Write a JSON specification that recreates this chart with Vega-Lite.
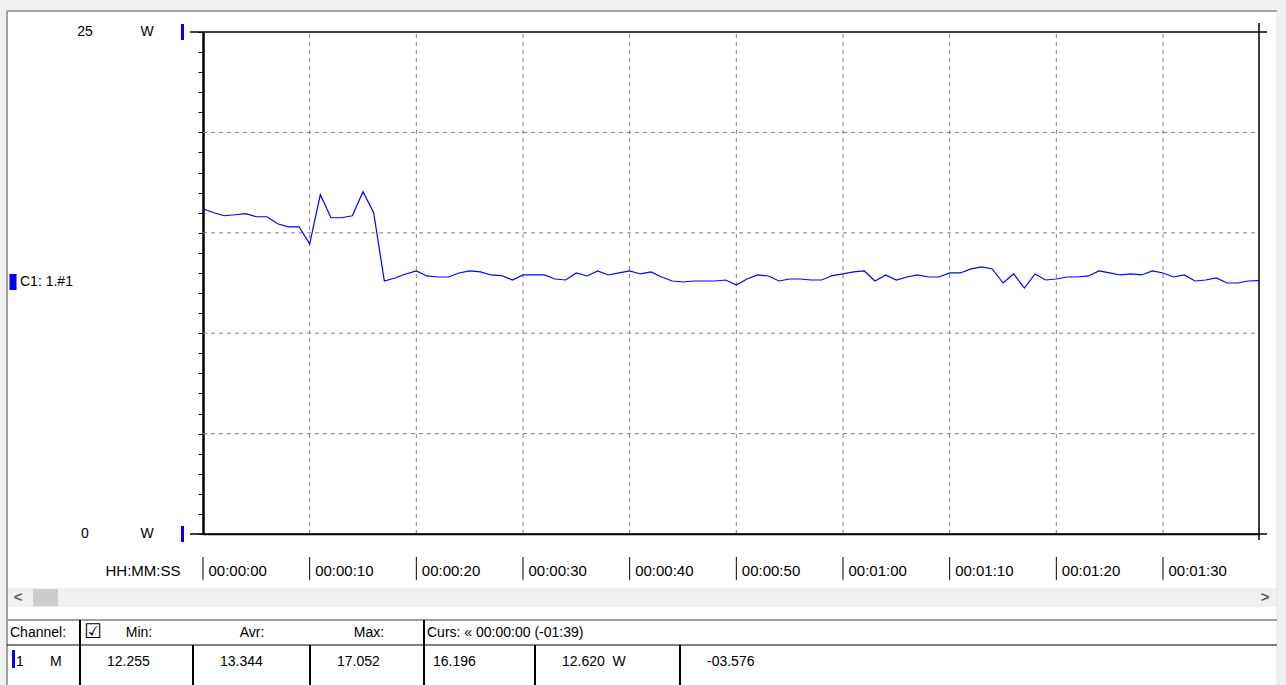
{
  "$schema": "https://vega.github.io/schema/vega-lite/v6.json",
  "width": 1286,
  "height": 685,
  "autosize": {"type": "none"},
  "padding": 0,
  "background": "#ffffff",
  "config": {
    "view": {"stroke": null, "fill": "#ffffff"},
    "font": "Liberation Sans",
    "text": {"font": "Liberation Sans", "fontSize": 14, "color": "#000000"}
  },
  "datasets": {
    "series": [
      {"t":0,"w":16.2},{"t":1,"w":16.0},{"t":2,"w":15.85},{"t":3,"w":15.9},{"t":4,"w":15.95},
      {"t":5,"w":15.8},{"t":6,"w":15.8},{"t":7,"w":15.45},{"t":8,"w":15.3},{"t":9,"w":15.3},
      {"t":10,"w":14.45},{"t":11,"w":16.9},{"t":12,"w":15.75},{"t":13,"w":15.75},{"t":14,"w":15.85},
      {"t":15,"w":17.05},{"t":16,"w":16.0},{"t":17,"w":12.6},{"t":18,"w":12.75},{"t":19,"w":12.95},
      {"t":20,"w":13.1},{"t":21,"w":12.85},{"t":22,"w":12.8},{"t":23,"w":12.8},{"t":24,"w":13.0},
      {"t":25,"w":13.1},{"t":26,"w":13.05},{"t":27,"w":12.9},{"t":28,"w":12.87},{"t":29,"w":12.65},
      {"t":30,"w":12.9},{"t":31,"w":12.9},{"t":32,"w":12.9},{"t":33,"w":12.7},{"t":34,"w":12.65},
      {"t":35,"w":13.0},{"t":36,"w":12.85},{"t":37,"w":13.1},{"t":38,"w":12.9},{"t":39,"w":13.0},
      {"t":40,"w":13.1},{"t":41,"w":12.95},{"t":42,"w":13.05},{"t":43,"w":12.8},{"t":44,"w":12.6},
      {"t":45,"w":12.55},{"t":46,"w":12.6},{"t":47,"w":12.6},{"t":48,"w":12.6},{"t":49,"w":12.65},
      {"t":50,"w":12.4},{"t":51,"w":12.7},{"t":52,"w":12.9},{"t":53,"w":12.85},{"t":54,"w":12.6},
      {"t":55,"w":12.7},{"t":56,"w":12.7},{"t":57,"w":12.65},{"t":58,"w":12.65},{"t":59,"w":12.87},
      {"t":60,"w":12.95},{"t":61,"w":13.05},{"t":62,"w":13.1},{"t":63,"w":12.6},{"t":64,"w":12.9},
      {"t":65,"w":12.65},{"t":66,"w":12.8},{"t":67,"w":12.9},{"t":68,"w":12.8},{"t":69,"w":12.8},
      {"t":70,"w":13.0},{"t":71,"w":13.0},{"t":72,"w":13.2},{"t":73,"w":13.3},{"t":74,"w":13.2},
      {"t":75,"w":12.5},{"t":76,"w":12.95},{"t":77,"w":12.25},{"t":78,"w":12.95},{"t":79,"w":12.65},
      {"t":80,"w":12.7},{"t":81,"w":12.8},{"t":82,"w":12.8},{"t":83,"w":12.85},{"t":84,"w":13.1},
      {"t":85,"w":13.0},{"t":86,"w":12.9},{"t":87,"w":12.95},{"t":88,"w":12.9},{"t":89,"w":13.1},
      {"t":90,"w":13.0},{"t":91,"w":12.8},{"t":92,"w":12.9},{"t":93,"w":12.6},{"t":94,"w":12.65},
      {"t":95,"w":12.75},{"t":96,"w":12.5},{"t":97,"w":12.5},{"t":98,"w":12.6},{"t":99,"w":12.62}
    ],
    "table": [
      {"col":0,"header":"Channel:","value":"1"},
      {"col":1,"header":"Min:","value":"12.255"},
      {"col":2,"header":"Avr:","value":"13.344"},
      {"col":3,"header":"Max:","value":"17.052"},
      {"col":4,"header":"Curs: « 00:00:00 (-01:39)","value":"16.196"},
      {"col":5,"header":"","value":"12.620\u00a0\u00a0W"},
      {"col":6,"header":"","value":"-03.576"}
    ],
    "yends": [{"w":0,"lab":"0","ch":"C1: 1.#1"},{"w":25,"lab":"25","ch":"C1: 1.#1"}],
    "ygrid": [{"w":5},{"w":10},{"w":15},{"w":20}],
    "one": [{}]
  },
  "layer": [
    {
      "layer": [
        {
          "data": {"name": "one"},
          "mark": {"type": "rect", "fill": "#f0f0f0"},
          "encoding": {
            "x": {"datum": -1, "type": "quantitative", "scale": {"domain": [-1,0,1,2,3,4,5,6,7,8], "range": [0,7,80,193,310,424,535,680,1277,1286], "zero": false, "nice": false}, "axis": null},
            "x2": {"datum": 8},
            "y": {"datum": 0, "type": "quantitative", "scale": {"domain": [0,1,2,3,4,5,6], "range": [0,11,588,607,620,645,685], "zero": false, "nice": false}, "axis": null},
            "y2": {"datum": 1}
          }
        },
        {
          "data": {"name": "one"},
          "mark": {"type": "rect", "fill": "#f0f0f0"},
          "encoding": {
            "x": {"datum": -1, "type": "quantitative", "axis": null},
            "x2": {"datum": 0},
            "y": {"datum": 0, "type": "quantitative", "axis": null},
            "y2": {"datum": 6}
          }
        },
        {
          "data": {"name": "one"},
          "mark": {"type": "rect", "fill": "#f0f0f0"},
          "encoding": {
            "x": {"datum": 7, "type": "quantitative", "axis": null},
            "x2": {"datum": 8},
            "y": {"datum": 0, "type": "quantitative", "axis": null},
            "y2": {"datum": 6}
          }
        },
        {
          "data": {"name": "one"},
          "mark": {"type": "rect", "fill": "#f0f0f0"},
          "encoding": {
            "x": {"datum": 0, "type": "quantitative", "axis": null},
            "x2": {"datum": 7},
            "y": {"datum": 2, "type": "quantitative", "axis": null},
            "y2": {"datum": 3}
          }
        },
        {
          "data": {"name": "one"},
          "mark": {"type": "rule", "color": "#a0a0a0", "strokeWidth": 2},
          "encoding": {
            "x": {"datum": 0, "type": "quantitative", "axis": null},
            "x2": {"datum": 7},
            "y": {"datum": 1, "type": "quantitative", "axis": null}
          }
        },
        {
          "data": {"name": "one"},
          "mark": {"type": "rule", "color": "#a0a0a0", "strokeWidth": 2},
          "encoding": {
            "x": {"datum": 0, "type": "quantitative", "axis": null},
            "y": {"datum": 1, "type": "quantitative", "axis": null},
            "y2": {"datum": 6}
          }
        },
        {
          "data": {"name": "one"},
          "mark": {"type": "rule", "color": "#e3e3e3", "strokeWidth": 1},
          "encoding": {
            "x": {"datum": 7, "type": "quantitative", "axis": null},
            "y": {"datum": 1, "type": "quantitative", "axis": null},
            "y2": {"datum": 6}
          }
        },
        {
          "data": {"name": "one"},
          "mark": {"type": "rect", "fill": "#cdcdcd", "xOffset": 26, "x2Offset": 51, "yOffset": 1, "y2Offset": -1},
          "encoding": {
            "x": {"datum": 0, "type": "quantitative", "axis": null},
            "x2": {"datum": 0},
            "y": {"datum": 2, "type": "quantitative", "axis": null},
            "y2": {"datum": 3}
          }
        },
        {
          "data": {"name": "one"},
          "mark": {"type": "text", "text": "<", "dx": 11, "dy": 9, "fontSize": 15, "fontWeight": "bold", "color": "#606060", "baseline": "middle"},
          "encoding": {
            "x": {"datum": 0, "type": "quantitative", "axis": null},
            "y": {"datum": 2, "type": "quantitative", "axis": null}
          }
        },
        {
          "data": {"name": "one"},
          "mark": {"type": "text", "text": ">", "dx": -12, "dy": 9, "fontSize": 15, "fontWeight": "bold", "color": "#606060", "baseline": "middle"},
          "encoding": {
            "x": {"datum": 7, "type": "quantitative", "axis": null},
            "y": {"datum": 2, "type": "quantitative", "axis": null}
          }
        },
        {
          "data": {"name": "one"},
          "mark": {"type": "rule", "color": "#a0a0a0", "strokeWidth": 2},
          "encoding": {
            "x": {"datum": 0, "type": "quantitative", "axis": null},
            "x2": {"datum": 7},
            "y": {"datum": 4, "type": "quantitative", "axis": null}
          }
        },
        {
          "data": {"name": "one"},
          "mark": {"type": "rule", "color": "#000000", "strokeWidth": 1},
          "encoding": {
            "x": {"datum": 0, "type": "quantitative", "axis": null},
            "x2": {"datum": 7},
            "y": {"datum": 5, "type": "quantitative", "axis": null}
          }
        },
        {
          "data": {"name": "table"},
          "transform": [{"filter": "datum.col >= 1"}],
          "mark": {"type": "rule", "color": "#000000", "strokeWidth": 2},
          "encoding": {
            "x": {"field": "col", "type": "quantitative", "axis": null},
            "y": {"datum": 5, "type": "quantitative", "axis": null},
            "y2": {"datum": 6}
          }
        },
        {
          "data": {"name": "table"},
          "transform": [{"filter": "datum.col == 1 || datum.col == 4"}],
          "mark": {"type": "rule", "color": "#000000", "strokeWidth": 2},
          "encoding": {
            "x": {"field": "col", "type": "quantitative", "axis": null},
            "y": {"datum": 4, "type": "quantitative", "axis": null},
            "y2": {"datum": 5}
          }
        },
        {
          "data": {"name": "table"},
          "transform": [{"filter": "datum.col == 0 || datum.col == 4"}],
          "mark": {"type": "text", "align": "left", "baseline": "middle", "dx": 3, "dy": 13},
          "encoding": {
            "x": {"field": "col", "type": "quantitative", "axis": null},
            "y": {"datum": 4, "type": "quantitative", "axis": null},
            "text": {"field": "header"}
          }
        },
        {
          "data": {"name": "table"},
          "transform": [{"filter": "datum.col >= 1 && datum.col <= 3"}],
          "mark": {"type": "text", "align": "center", "baseline": "middle", "dx": 59, "dy": 13},
          "encoding": {
            "x": {"field": "col", "type": "quantitative", "axis": null},
            "y": {"datum": 4, "type": "quantitative", "axis": null},
            "text": {"field": "header"}
          }
        },
        {
          "data": {"name": "one"},
          "mark": {"type": "text", "text": "☑", "font": "DejaVu Sans", "fontSize": 20, "align": "left", "baseline": "middle", "dx": 4, "dy": 12},
          "encoding": {
            "x": {"datum": 1, "type": "quantitative", "axis": null},
            "y": {"datum": 4, "type": "quantitative", "axis": null}
          }
        },
        {
          "data": {"name": "table"},
          "transform": [{"filter": "datum.col == 0 || datum.col == 4"}],
          "mark": {"type": "text", "align": "left", "baseline": "middle", "dx": 9, "dy": 17},
          "encoding": {
            "x": {"field": "col", "type": "quantitative", "axis": null},
            "y": {"datum": 5, "type": "quantitative", "axis": null},
            "text": {"field": "value"}
          }
        },
        {
          "data": {"name": "table"},
          "transform": [{"filter": "datum.col != 0 && datum.col != 4"}],
          "mark": {"type": "text", "align": "left", "baseline": "middle", "dx": 27, "dy": 17},
          "encoding": {
            "x": {"field": "col", "type": "quantitative", "axis": null},
            "y": {"datum": 5, "type": "quantitative", "axis": null},
            "text": {"field": "value"}
          }
        },
        {
          "data": {"name": "one"},
          "mark": {"type": "text", "text": "M", "align": "left", "baseline": "middle", "dx": 43, "dy": 17},
          "encoding": {
            "x": {"datum": 0, "type": "quantitative", "axis": null},
            "y": {"datum": 5, "type": "quantitative", "axis": null}
          }
        },
        {
          "data": {"name": "one"},
          "mark": {"type": "rect", "fill": "#0000ff", "xOffset": 5, "x2Offset": 8, "yOffset": 5, "y2Offset": 23},
          "encoding": {
            "x": {"datum": 0, "type": "quantitative", "axis": null},
            "x2": {"datum": 0},
            "y": {"datum": 5, "type": "quantitative", "axis": null},
            "y2": {"datum": 5}
          }
        }
      ]
    },
    {
      "layer": [
        {
          "data": {"name": "series"},
          "transform": [{"filter": "datum.t % 10 == 0 && datum.t > 0"}],
          "mark": {"type": "rule", "color": "#808080", "strokeWidth": 1, "strokeDash": [4, 4]},
          "encoding": {
            "x": {"field": "t", "type": "quantitative", "scale": {"domain": [0, 99], "range": [203, 1259], "zero": false, "nice": false}},
            "y": {"datum": 0, "type": "quantitative", "scale": {"domain": [0, 25], "range": [534, 32], "zero": false, "nice": false}},
            "y2": {"datum": 25}
          }
        },
        {
          "data": {"name": "ygrid"},
          "mark": {"type": "rule", "color": "#808080", "strokeWidth": 1, "strokeDash": [4, 4]},
          "encoding": {
            "x": {"datum": 0, "type": "quantitative"},
            "x2": {"datum": 99},
            "y": {"field": "w", "type": "quantitative"}
          }
        },
        {
          "data": {"name": "series"},
          "mark": {"type": "line", "strokeWidth": 1.2, "color": "#0000ff"},
          "encoding": {
            "x": {
              "field": "t", "type": "quantitative",
              "scale": {"domain": [0, 99], "range": [203, 1259], "zero": false, "nice": false},
              "axis": {
                "orient": "bottom", "offset": -151,
                "values": [0,10,20,30,40,50,60,70,80,90], "tickCount": 20,
                "domain": true, "domainColor": "#000000", "domainWidth": 1.5,
                "ticks": false, "grid": false,
                "labelExpr": "'00:' + (datum.value < 60 ? '00:' + (datum.value < 10 ? '0' : '') + datum.value : '01:' + (datum.value - 60 < 10 ? '0' : '') + (datum.value - 60))",
                "labelAlign": "left", "labelBaseline": "alphabetic", "labelPadding": 41, "labelOffset": 5,
                "labelFlush": false, "labelOverlap": false,
                "labelFont": "Liberation Sans", "labelFontSize": 15, "labelColor": "#000000",
                "title": "HH:MM:SS", "titleFont": "Liberation Sans", "titleFontSize": 15, "titleFontWeight": "normal",
                "titleColor": "#000000", "titleAlign": "left", "titleAnchor": "start", "titleBaseline": "alphabetic",
                "titleX": 105, "titleY": 41
              }
            },
            "y": {
              "field": "w", "type": "quantitative",
              "scale": {"domain": [0, 25], "range": [534, 32], "zero": false, "nice": false},
              "axis": {
                "orient": "left", "offset": -203,
                "values": [0,1,2,3,4,5,6,7,8,9,10,11,12,13,14,15,16,17,18,19,20,21,22,23,24,25], "tickCount": 40,
                "domain": true, "domainColor": "#000000", "domainWidth": 2.5,
                "ticks": true, "tickColor": "#000000", "tickSize": 5, "tickWidth": 1,
                "grid": false, "labels": false,
                "title": null
              }
            }
          }
        },
        {
          "data": {"name": "series"},
          "transform": [{"filter": "datum.t % 10 == 0"}],
          "mark": {"type": "rule", "color": "#000000", "strokeWidth": 1, "yOffset": 23, "y2Offset": 46},
          "encoding": {
            "x": {"field": "t", "type": "quantitative"},
            "y": {"datum": 0, "type": "quantitative"},
            "y2": {"datum": 0}
          }
        },
        {
          "data": {"name": "one"},
          "mark": {"type": "rule", "color": "#000000", "strokeWidth": 1.5, "xOffset": -13, "x2Offset": 8},
          "encoding": {
            "x": {"datum": 0, "type": "quantitative"},
            "x2": {"datum": 99},
            "y": {"datum": 25, "type": "quantitative"}
          }
        },
        {
          "data": {"name": "one"},
          "mark": {"type": "rule", "color": "#000000", "strokeWidth": 1.5, "xOffset": -13, "x2Offset": 8},
          "encoding": {
            "x": {"datum": 0, "type": "quantitative"},
            "x2": {"datum": 99},
            "y": {"datum": 0, "type": "quantitative"}
          }
        },
        {
          "data": {"name": "one"},
          "mark": {"type": "rule", "color": "#000000", "strokeWidth": 1.5, "yOffset": 6, "y2Offset": -9},
          "encoding": {
            "x": {"datum": 99, "type": "quantitative"},
            "y": {"datum": 0, "type": "quantitative"},
            "y2": {"datum": 25}
          }
        },
        {
          "data": {"name": "yends"},
          "mark": {"type": "text", "text": "W", "align": "center", "baseline": "middle", "dx": -56},
          "encoding": {
            "x": {"datum": 0, "type": "quantitative"},
            "y": {"field": "w", "type": "quantitative"}
          }
        },
        {
          "data": {"name": "yends"},
          "mark": {"type": "text", "align": "center", "baseline": "middle", "dx": -118},
          "encoding": {
            "x": {"datum": 0, "type": "quantitative"},
            "y": {"field": "w", "type": "quantitative"},
            "text": {"field": "lab"}
          }
        },
        {
          "data": {"name": "yends"},
          "mark": {"type": "rect", "xOffset": -22, "x2Offset": -19, "yOffset": -8, "y2Offset": 8},
          "encoding": {
            "x": {"datum": 0, "type": "quantitative"},
            "x2": {"datum": 0},
            "y": {"field": "w", "type": "quantitative"},
            "y2": {"field": "w"},
            "color": {
              "field": "ch", "type": "nominal",
              "scale": {"range": ["#0000ff"]},
              "legend": {
                "orient": "none", "legendX": 5, "legendY": 274, "title": null,
                "symbolType": "M-0.44,-1H0.44V1H-0.44Z", "symbolSize": 256, "symbolStrokeWidth": 0,
                "labelFont": "Liberation Sans", "labelFontSize": 14, "labelColor": "#000000",
                "labelOffset": -1, "padding": 0
              }
            }
          }
        }
      ]
    }
  ],
  "resolve": {"scale": {"x": "independent", "y": "independent"}}
}
